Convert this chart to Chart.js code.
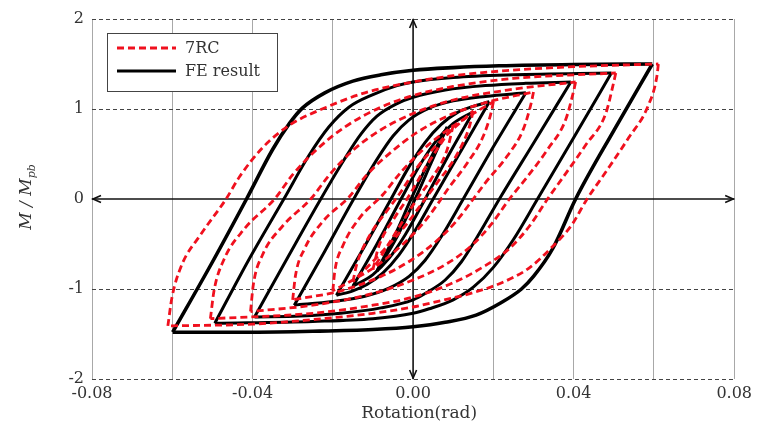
<!DOCTYPE html>
<html>
<head>
<meta charset="utf-8">
<script src="https://cdn.jsdelivr.net/npm/chart.js@4.4.1/dist/chart.umd.min.js"></script>
<style>
html,body{margin:0;padding:0;background:#fff;}
#wrap{width:757px;height:428px;}
</style>
</head>
<body>
<div id="wrap"><canvas id="c" width="757" height="428"></canvas></div>
<script>
// ---------- tick labels ----------
const xGridValues = [-0.08, -0.06, -0.04, -0.02, 0, 0.02, 0.04, 0.06, 0.08];
const xTickValues = [-0.08, -0.04, 0, 0.04, 0.08];
const xTickLabels = ['-0.08', '-0.04', '0.00', '0.04', '0.08'];
const yTickValues = [-2, -1, 0, 1, 2];
const yTickLabels = ['-2', '-1', '0', '1', '2'];
const seriesNames = ['7RC', 'FE result'];
const xTitle = 'Rotation(rad)';

// ---------- FE result (black) : [rotation, M/Mpb] ----------
const fe060Up = [[-0.0599,-1.48],[-0.0500,-0.70],[-0.0415,0.00],[-0.0350,0.55],[-0.0308,0.84],[-0.0276,1.01],[-0.0220,1.18],[-0.0150,1.31],[-0.0080,1.38],[0.0000,1.43],[0.0100,1.46],[0.0214,1.48],[0.0400,1.495],[0.0596,1.50]];
const fe060Down = [[0.0596,1.50],[0.0500,0.76],[0.0405,0.00],[0.0348,-0.55],[0.0300,-0.86],[0.0270,-1.00],[0.0220,-1.15],[0.0157,-1.29],[0.0080,-1.37],[0.0000,-1.42],[-0.0100,-1.45],[-0.0250,-1.47],[-0.0400,-1.48],[-0.0599,-1.48]];
const fe050Up = [[-0.0494,-1.38],[-0.0410,-0.68],[-0.0322,0.00],[-0.0260,0.48],[-0.0210,0.80],[-0.0160,1.02],[-0.0100,1.16],[-0.0040,1.26],[0.0000,1.30],[0.0100,1.35],[0.0250,1.38],[0.0494,1.40]];
const fe050Down = [[0.0494,1.40],[0.0400,0.68],[0.0310,0.00],[0.0250,-0.45],[0.0200,-0.76],[0.0150,-0.98],[0.0100,-1.12],[0.0040,-1.22],[0.0000,-1.27],[-0.0100,-1.33],[-0.0250,-1.36],[-0.0494,-1.38]];
const fe040Up = [[-0.0395,-1.31],[-0.0310,-0.63],[-0.0230,0.00],[-0.0170,0.45],[-0.0130,0.72],[-0.0090,0.92],[-0.0040,1.06],[0.0000,1.13],[0.0080,1.21],[0.0180,1.26],[0.0280,1.285],[0.0393,1.30]];
const fe040Down = [[0.0393,1.30],[0.0300,0.62],[0.0215,0.00],[0.0160,-0.42],[0.0120,-0.70],[0.0080,-0.90],[0.0030,-1.05],[0.0000,-1.12],[-0.0080,-1.21],[-0.0180,-1.27],[-0.0280,-1.30],[-0.0395,-1.31]];
const fe030Up = [[-0.0296,-1.18],[-0.0220,-0.58],[-0.0148,0.00],[-0.0090,0.44],[-0.0050,0.70],[-0.0010,0.88],[0.0040,1.01],[0.0100,1.09],[0.0180,1.14],[0.0281,1.18]];
const fe030Down = [[0.0281,1.18],[0.0200,0.58],[0.0125,0.00],[0.0070,-0.42],[0.0030,-0.68],[-0.0010,-0.86],[-0.0060,-0.99],[-0.0120,-1.08],[-0.0200,-1.14],[-0.0296,-1.18]];
const fe020Up = [[-0.0191,-1.07],[-0.0120,-0.52],[-0.0055,0.00],[-0.0010,0.36],[0.0030,0.63],[0.0070,0.83],[0.0110,0.96],[0.0150,1.03],[0.0190,1.08]];
const fe020Down = [[0.0190,1.08],[0.0120,0.54],[0.0050,0.00],[0.0005,-0.35],[-0.0035,-0.62],[-0.0075,-0.82],[-0.0115,-0.95],[-0.0150,-1.02],[-0.0191,-1.07]];
const fe015Up = [[-0.0150,-0.97],[-0.0090,-0.50],[-0.0030,0.00],[0.0020,0.40],[0.0060,0.66],[0.0100,0.84],[0.0150,0.97]];
const fe015Down = [[0.0150,0.97],[0.0090,0.50],[0.0030,0.00],[-0.0020,-0.40],[-0.0060,-0.66],[-0.0100,-0.84],[-0.0150,-0.97]];
const fe010Up = [[-0.0090,-0.80],[-0.0045,-0.40],[-0.0005,0.00],[0.0040,0.42],[0.0085,0.80]];
const fe010Down = [[0.0085,0.80],[0.0045,0.40],[0.0005,0.00],[-0.0040,-0.42],[-0.0090,-0.80]];

// ---------- 7RC (red dashed) ----------
const rc060Up = [[-0.0611,-1.41],[-0.0601,-1.10],[-0.0578,-0.75],[-0.0530,-0.40],[-0.0466,0.00],[-0.0432,0.25],[-0.0375,0.57],[-0.0308,0.82],[-0.0216,1.02],[-0.0120,1.18],[0.0000,1.30],[0.0100,1.37],[0.0214,1.42],[0.0400,1.47],[0.0611,1.50]];
const rc060Down = [[0.0611,1.50],[0.0608,1.38],[0.0586,1.04],[0.0537,0.68],[0.0480,0.30],[0.0432,-0.01],[0.0395,-0.29],[0.0345,-0.54],[0.0288,-0.77],[0.0221,-0.93],[0.0150,-1.04],[0.0050,-1.15],[0.0000,-1.20],[-0.0100,-1.27],[-0.0250,-1.34],[-0.0400,-1.39],[-0.0611,-1.41]];
const rc050Up = [[-0.0505,-1.33],[-0.0496,-1.02],[-0.0472,-0.68],[-0.0420,-0.33],[-0.0345,0.00],[-0.0300,0.27],[-0.0240,0.55],[-0.0170,0.80],[-0.0080,1.02],[0.0000,1.15],[0.0100,1.25],[0.0250,1.34],[0.0505,1.40]];
const rc050Down = [[0.0505,1.40],[0.0500,1.30],[0.0480,0.95],[0.0430,0.60],[0.0375,0.25],[0.0335,0.00],[0.0290,-0.30],[0.0240,-0.55],[0.0180,-0.74],[0.0100,-0.93],[0.0000,-1.09],[-0.0100,-1.18],[-0.0250,-1.27],[-0.0505,-1.33]];
const rc040Up = [[-0.0405,-1.25],[-0.0398,-0.95],[-0.0375,-0.62],[-0.0325,-0.30],[-0.0255,0.00],[-0.0210,0.26],[-0.0150,0.54],[-0.0080,0.77],[0.0000,0.95],[0.0100,1.10],[0.0250,1.22],[0.0405,1.30]];
const rc040Down = [[0.0405,1.30],[0.0400,1.20],[0.0380,0.88],[0.0335,0.55],[0.0280,0.22],[0.0240,0.00],[0.0195,-0.28],[0.0145,-0.52],[0.0080,-0.73],[0.0000,-0.90],[-0.0100,-1.05],[-0.0250,-1.18],[-0.0405,-1.25]];
const rc030Up = [[-0.0300,-1.12],[-0.0293,-0.85],[-0.0270,-0.55],[-0.0225,-0.25],[-0.0160,0.02],[-0.0115,0.27],[-0.0055,0.52],[0.0010,0.74],[0.0090,0.93],[0.0180,1.07],[0.0300,1.19]];
const rc030Down = [[0.0300,1.19],[0.0295,1.08],[0.0275,0.78],[0.0235,0.48],[0.0180,0.18],[0.0150,0.00],[0.0105,-0.26],[0.0055,-0.48],[-0.0005,-0.68],[-0.0080,-0.86],[-0.0180,-1.02],[-0.0300,-1.12]];
const rc020Up = [[-0.0200,-1.02],[-0.0195,-0.80],[-0.0175,-0.52],[-0.0135,-0.22],[-0.0075,0.05],[-0.0030,0.30],[0.0025,0.55],[0.0090,0.78],[0.0150,0.95],[0.0200,1.08]];
const rc020Down = [[0.0200,1.08],[0.0195,0.97],[0.0175,0.70],[0.0135,0.40],[0.0085,0.10],[0.0070,0.00],[0.0025,-0.27],[-0.0025,-0.50],[-0.0090,-0.74],[-0.0150,-0.90],[-0.0200,-1.02]];
const rc015Up = [[-0.0150,-0.92],[-0.0140,-0.72],[-0.0110,-0.42],[-0.0060,-0.10],[-0.0035,0.05],[0.0010,0.35],[0.0070,0.65],[0.0150,0.98]];
const rc015Down = [[0.0150,0.98],[0.0140,0.80],[0.0110,0.50],[0.0060,0.18],[0.0030,0.00],[-0.0020,-0.30],[-0.0080,-0.60],[-0.0150,-0.92]];
const rc010Up = [[-0.0100,-0.78],[-0.0085,-0.52],[-0.0045,-0.20],[-0.0015,0.00],[0.0035,0.38],[0.0100,0.82]];
const rc010Down = [[0.0100,0.82],[0.0085,0.55],[0.0045,0.22],[0.0010,0.00],[-0.0040,-0.35],[-0.0100,-0.78]];

const rcBranches = [rc060Up, rc060Down, rc050Up, rc050Down, rc040Up, rc040Down, rc030Up, rc030Down, rc020Up, rc020Down, rc015Up, rc015Down, rc010Up, rc010Down];
const feBranches = [fe060Up, fe060Down, fe050Up, fe050Down, fe040Up, fe040Down, fe030Up, fe030Down, fe020Up, fe020Down, fe015Up, fe015Down, fe010Up, fe010Down];

const RED = '#f0101e';
const BLACK = '#000000';
const RED_DASH = [7, 4];
const FONT = "'DejaVu Serif', serif";

const toPts = arr => arr.map(p => ({x: p[0], y: p[1]}));
const datasets = [];
rcBranches.forEach((b, i) => datasets.push({
  label: seriesNames[0], data: toPts(b), showLine: true, pointRadius: 0,
  borderColor: RED, borderWidth: 2.8, borderDash: RED_DASH,
  cubicInterpolationMode: 'monotone', fill: false
}));
feBranches.forEach((b, i) => datasets.push({
  label: seriesNames[1], data: toPts(b), showLine: true, pointRadius: 0,
  borderColor: BLACK, borderWidth: i < 2 ? 3.6 : 3,
  cubicInterpolationMode: 'monotone', fill: false
}));

function arrowHead(ctx, x, y, dir) {
  const L = 8, W = 3.5;
  ctx.beginPath();
  if (dir === 'left') { ctx.moveTo(x + L, y - W); ctx.lineTo(x, y); ctx.lineTo(x + L, y + W); }
  if (dir === 'right') { ctx.moveTo(x - L, y - W); ctx.lineTo(x, y); ctx.lineTo(x - L, y + W); }
  if (dir === 'up') { ctx.moveTo(x - W, y + L); ctx.lineTo(x, y); ctx.lineTo(x + W, y + L); }
  if (dir === 'down') { ctx.moveTo(x - W, y - L); ctx.lineTo(x, y); ctx.lineTo(x + W, y - L); }
  ctx.stroke();
}

const overlay = {
  id: 'overlay',
  beforeDatasetsDraw(chart) {
    const {ctx, chartArea: a, scales: {x, y}} = chart;
    const x0 = x.getPixelForValue(0), y0 = y.getPixelForValue(0);
    ctx.save();
    ctx.strokeStyle = '#111';
    ctx.lineWidth = 1.6;
    ctx.setLineDash([]);
    ctx.beginPath(); ctx.moveTo(a.left, y0); ctx.lineTo(a.right, y0); ctx.stroke();
    ctx.beginPath(); ctx.moveTo(x0, a.top); ctx.lineTo(x0, a.bottom); ctx.stroke();
    arrowHead(ctx, a.left + 1, y0, 'left');
    arrowHead(ctx, a.right - 1, y0, 'right');
    arrowHead(ctx, x0, a.top + 1, 'up');
    arrowHead(ctx, x0, a.bottom - 1, 'down');
    ctx.restore();
  },
  afterDraw(chart) {
    const {ctx, chartArea: a} = chart;
    ctx.save();
    // legend box
    const bx = 107.5, by = 33.5, bw = 170, bh = 58;
    ctx.fillStyle = '#fff';
    ctx.fillRect(bx, by, bw, bh);
    ctx.strokeStyle = '#444';
    ctx.lineWidth = 1;
    ctx.strokeRect(bx, by, bw, bh);
    ctx.lineWidth = 3;
    ctx.strokeStyle = RED; ctx.setLineDash(RED_DASH);
    ctx.beginPath(); ctx.moveTo(117, 48); ctx.lineTo(176, 48); ctx.stroke();
    ctx.setLineDash([]);
    ctx.strokeStyle = BLACK;
    ctx.beginPath(); ctx.moveTo(117, 71); ctx.lineTo(176, 71); ctx.stroke();
    ctx.fillStyle = '#333';
    ctx.font = '16px ' + FONT;
    ctx.textBaseline = 'middle'; ctx.textAlign = 'left';
    ctx.fillText(seriesNames[0], 185, 49);
    ctx.fillText(seriesNames[1], 185, 72);
    // x title
    ctx.font = '17px ' + FONT;
    ctx.textAlign = 'center';
    ctx.fillText(xTitle, (a.left + a.right) / 2 + 6, 414);
    // y title  M / M_pb (rotated)
    ctx.translate(27, 197);
    ctx.rotate(-Math.PI / 2);
    const main = 'M / M';
    ctx.font = 'italic 17px ' + FONT;
    const w1 = ctx.measureText(main).width;
    ctx.font = 'italic 11px ' + FONT;
    const w2 = ctx.measureText('pb').width;
    const start = -(w1 + w2) / 2;
    ctx.textAlign = 'left';
    ctx.font = 'italic 17px ' + FONT;
    ctx.fillText(main, start, 0);
    ctx.font = 'italic 11px ' + FONT;
    ctx.fillText('pb', start + w1, 5);
    ctx.restore();
  }
};

new Chart(document.getElementById('c'), {
  type: 'scatter',
  data: {datasets},
  options: {
    responsive: false,
    animation: false,
    events: [],
    layout: {padding: {top: 19, right: 21, left: 0, bottom: 0}},
    plugins: {legend: {display: false}, tooltip: {enabled: false}, title: {display: false}},
    scales: {
      x: {
        type: 'linear', min: -0.08, max: 0.08,
        afterBuildTicks: s => { s.ticks = xGridValues.map(v => ({value: v})); },
        afterFit: s => { s.height = 49; },
        ticks: {
          padding: 5, color: '#333', font: {family: FONT, size: 16},
          autoSkip: false, maxRotation: 0,
          callback: v => { const i = xTickValues.findIndex(t => Math.abs(t - v) < 1e-9); return i >= 0 ? xTickLabels[i] : ''; }
        },
        grid: {
          drawTicks: false, lineWidth: 1,
          color: c => (c.tick && Math.abs(c.tick.value) < 1e-9) ? 'rgba(0,0,0,0)' : '#a8a8a8'
        },
        border: {display: false}
      },
      y: {
        type: 'linear', min: -2, max: 2,
        afterBuildTicks: s => { s.ticks = yTickValues.map(v => ({value: v})); },
        afterFit: s => { s.width = 92; },
        ticks: {
          padding: 8, color: '#333', font: {family: FONT, size: 16},
          callback: v => { const i = yTickValues.indexOf(v); return i >= 0 ? yTickLabels[i] : ''; }
        },
        grid: {
          drawTicks: false, lineWidth: 1,
          color: c => (c.tick && c.tick.value === 0) ? 'rgba(0,0,0,0)' : '#444'
        },
        border: {display: false, dash: [4, 3]}
      }
    }
  },
  plugins: [overlay]
});
</script>
</body>
</html>
